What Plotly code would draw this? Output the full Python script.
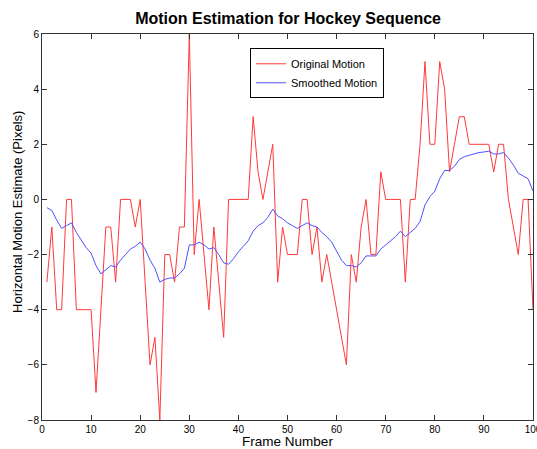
import plotly.graph_objects as go

frames = list(range(1, 101))
original_motion = [-3, -1, -4, -4, 0, 0, -4, -4, -4, -4,
                   -7, -4, -1, -1, -3, 0, 0, 0, -1, 0,
                   -3, -6, -5, -8, -2, -2, -3, -1, -1, 6,
                   -2, 0, -2, -4, -1, -3, -5, 0, 0, 0,
                   0, 0, 3, 1, 0, 1, 2, -3, -1, -2,
                   -2, -2, 0, 0, -2, -1, -3, -2, -3, -4,
                   -5, -6, -2, -3, -1, 0, -2, -2, 1, 0,
                   0, 0, 0, -3, 0, 0, 2, 5, 2, 2,
                   5, 4, 1, 2, 3, 3, 2, 2, 2, 2,
                   2, 1, 2, 2, 0, -1, -2, 0, 0, -4]
smoothed_motion = [-0.3, -0.4, -0.75, -1.05, -0.95, -0.85, -1.2, -1.5, -1.75, -1.95,
                   -2.4, -2.7, -2.55, -2.4, -2.45, -2.2, -2.0, -1.8, -1.7, -1.55,
                   -1.8, -2.2, -2.5, -3.0, -2.9, -2.85, -2.85, -2.7, -2.5, -1.65,
                   -1.65, -1.55, -1.65, -1.8, -1.75, -2.0, -2.3, -2.35, -2.15, -1.9,
                   -1.7, -1.5, -1.15, -0.95, -0.85, -0.65, -0.35, -0.6, -0.7, -0.85,
                   -0.95, -1.05, -0.95, -0.85, -0.95, -1.0, -1.2, -1.35, -1.55, -1.85,
                   -2.2, -2.4, -2.4, -2.45, -2.3, -2.05, -2.05, -2.05, -1.8, -1.65,
                   -1.5, -1.35, -1.15, -1.35, -1.2, -1.05, -0.8, -0.2, 0.1, 0.3,
                   0.75, 1.05, 1.05, 1.2, 1.45, 1.55, 1.6, 1.65, 1.7, 1.72,
                   1.75, 1.65, 1.65, 1.7, 1.5, 1.25, 0.95, 0.85, 0.75, 0.3]
x_ticks = list(range(0, 101, 10))
y_ticks = list(range(-8, 7, 2))

FONT = "Liberation Sans, Arial, sans-serif"

fig = go.Figure()
fig.add_trace(go.Scatter(x=frames, y=original_motion, mode="lines",
                         name="Original Motion",
                         line=dict(color="#ff3a3a", width=1)))
fig.add_trace(go.Scatter(x=frames, y=smoothed_motion, mode="lines",
                         name="Smoothed Motion",
                         line=dict(color="#5050ff", width=1)))

axis_common = dict(showgrid=False, zeroline=False, showline=True, linecolor="#333",
                   linewidth=1, mirror="ticks", ticks="inside", ticklen=5,
                   tickcolor="#333", automargin=False,
                   tickfont=dict(family=FONT, size=10, color="black"))

fig.update_layout(
    width=537, height=449,
    margin=dict(l=42, r=4, t=34, b=29),
    paper_bgcolor="white", plot_bgcolor="white",
    title=dict(text="<b>Motion Estimation for Hockey Sequence</b>",
               font=dict(family=FONT, size=16, color="black"),
               x=0.5364, xanchor="center", y=0.96, yanchor="middle"),
    xaxis=dict(range=[0, 100], tickvals=x_ticks, ticklabeloverflow="allow",
               title=dict(text="Frame Number", font=dict(family=FONT, size=13.5, color="black"),
                          standoff=4),
               **axis_common),
    yaxis=dict(range=[-8, 6], tickvals=y_ticks, **axis_common),
    legend=dict(x=0.4236, y=0.963, xanchor="left", yanchor="top",
                bordercolor="black", borderwidth=1, bgcolor="white",
                font=dict(family=FONT, size=11, color="black"),
                itemwidth=30, tracegroupgap=0),
    showlegend=True,
    annotations=[dict(text="Horizontal Motion Estimate (Pixels)", textangle=-90,
                      xref="paper", yref="paper", x=-0.0489, y=0.539,
                      xanchor="center", yanchor="middle", showarrow=False,
                      font=dict(family=FONT, size=13, color="black"))],
)

fig.write_html("out.html")
